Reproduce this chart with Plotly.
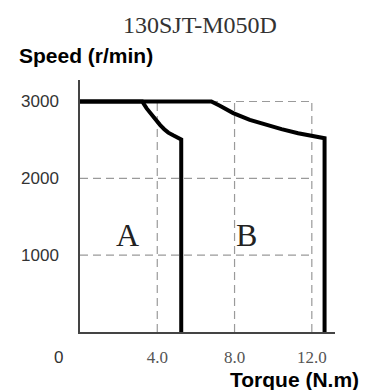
import plotly.graph_objects as go

# Data
title_text = "130SJT-M050D"
y_label = "Speed (r/min)"
x_label = "Torque (N.m)"

x_ticks = [4.0, 8.0, 12.0]
x_tick_text = ["4.0", "8.0", "12.0"]
y_ticks = [1000, 2000, 3000]
y_tick_text = ["1000", "2000", "3000"]

# Curve A (continuous region boundary)
a_torque = [0.0, 3.22, 3.45, 3.71, 3.93, 4.14, 4.36, 4.57, 4.82, 5.09, 5.24, 5.24]
a_speed = [3000, 3000, 2910, 2826, 2755, 2696, 2640, 2595, 2560, 2530, 2505, 0]

# Curve B (short-time region boundary)
b_torque = [0.0, 6.8, 7.24, 7.93, 8.79, 9.6, 10.43, 11.29, 12.16, 12.66, 12.66]
b_speed = [3000, 3000, 2944, 2849, 2761, 2695, 2640, 2588, 2543, 2522, 0]

region_labels = ["A", "B"]
region_x = [2.45, 8.6]
region_y = [1260, 1260]

grid_x_max = 12.0
grid_y_max = 3000

fig = go.Figure()

# dashed grid (stops at 12 / 3000)
for yv in y_ticks:
    fig.add_trace(go.Scatter(x=[0, grid_x_max], y=[yv, yv], mode="lines",
                             line=dict(color="#9a9a9a", width=1.2, dash="8px,5px"),
                             hoverinfo="skip", showlegend=False))
for xv in x_ticks:
    fig.add_trace(go.Scatter(x=[xv, xv], y=[0, grid_y_max], mode="lines",
                             line=dict(color="#9a9a9a", width=1.2, dash="8px,5px"),
                             hoverinfo="skip", showlegend=False))

fig.add_trace(go.Scatter(x=b_torque, y=b_speed, mode="lines",
                         line=dict(color="black", width=4),
                         showlegend=False))
fig.add_trace(go.Scatter(x=a_torque, y=a_speed, mode="lines",
                         line=dict(color="black", width=4),
                         showlegend=False))

for t, xv, yv in zip(region_labels, region_x, region_y):
    fig.add_annotation(x=xv, y=yv, xref="x", yref="y", text=t, showarrow=False,
                       xanchor="center", yanchor="middle",
                       font=dict(family="Liberation Serif", size=32, color="#222"))

L, R, T, B = 80, 34, 80, 58
W, H = 369, 390
pw, ph = W - L - R, H - T - B


def px_x(px):
    return (px - L) / pw


def px_y(py):
    return (H - B - py) / ph


fig.add_annotation(x=px_x(58), y=px_y(357), xref="paper", yref="paper", text="0",
                   showarrow=False, xanchor="center", yanchor="middle",
                   font=dict(family="Liberation Sans, Arial", size=17, color="#333"))

fig.add_annotation(x=px_x(200), y=px_y(25), xref="paper", yref="paper", text=title_text,
                   showarrow=False, xanchor="center", yanchor="middle",
                   font=dict(family="Liberation Serif", size=24, color="#333"))

fig.add_annotation(x=px_x(86), y=px_y(56), xref="paper", yref="paper",
                   text="<b>" + y_label + "</b>", showarrow=False,
                   xanchor="center", yanchor="middle",
                   font=dict(family="Liberation Sans, Arial", size=21, color="black"))
fig.add_annotation(x=px_x(294), y=px_y(379), xref="paper", yref="paper",
                   text="<b>" + x_label + "</b>", showarrow=False,
                   xanchor="center", yanchor="middle",
                   font=dict(family="Liberation Sans, Arial", size=21, color="black"))

fig.update_layout(
    width=W, height=H,
    margin=dict(l=L, r=R, t=T, b=B),
    paper_bgcolor="white", plot_bgcolor="white",
    showlegend=False,
    xaxis=dict(range=[0, 13.2], showgrid=False, zeroline=False, showline=True,
               linecolor="#444", linewidth=1.5, tickvals=x_ticks, ticktext=x_tick_text,
               ticks="", ticklabelstandoff=9,
               tickfont=dict(family="Liberation Serif", size=17, color="#555")),
    yaxis=dict(range=[0, 3280], showgrid=False, zeroline=False, showline=True,
               linecolor="#444", linewidth=1.5, tickvals=y_ticks, ticktext=y_tick_text,
               ticks="", ticklabelstandoff=16,
               tickfont=dict(family="Liberation Sans, Arial", size=17, color="#333")),
)

fig.write_html("out.html")
